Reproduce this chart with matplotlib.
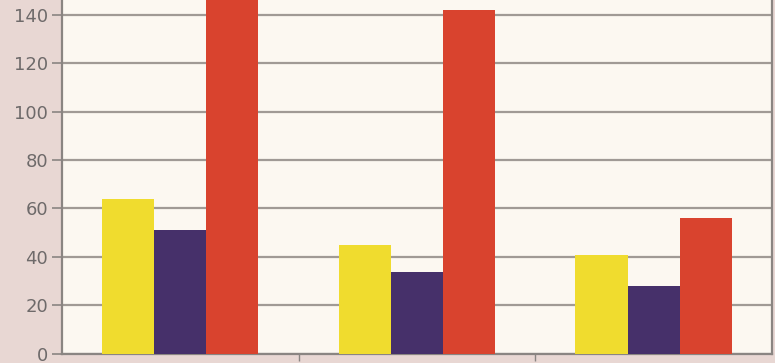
import numpy as np
import matplotlib.pyplot as plt

categories = ['A', 'B', 'C']
yellow_vals = [64, 45, 41]
purple_vals = [51, 34, 28]
red_vals = [150, 142, 56]

colors = ['#f0dc2e', '#46306a', '#d9432e']

fig = plt.figure(figsize=(7.75, 3.63), dpi=100, facecolor='#e8d7d3')
ax = fig.add_axes([0.08, 0.025, 0.916, 0.975])
ax.set_facecolor('#fcf8f1')

x = np.arange(len(categories))
w = 0.22
for off, vals, c in zip([-w, 0, w], [yellow_vals, purple_vals, red_vals], colors):
    ax.bar(x + off, vals, width=w, color=c, zorder=3)

ax.set_ylim(0, 146)
ax.set_xlim(-0.5, 2.5)
ax.set_yticks(range(0, 141, 20))
ax.yaxis.grid(True, color='#a09a95', lw=1.6, zorder=1)

ax.set_xticks([0.5, 1.5])
ax.set_xticklabels([])
ax.tick_params(axis='x', length=5, color='#8a8582', width=1)
ax.tick_params(axis='y', length=7, color='#8a8582', width=1.2,
               labelsize=13, labelcolor='#6e6a6a', pad=3)

for side in ['top']:
    ax.spines[side].set_visible(False)
for side in ['left', 'right', 'bottom']:
    ax.spines[side].set_color('#8a8582')
    ax.spines[side].set_linewidth(1.6)

plt.savefig('out.png', dpi=100, facecolor=fig.get_facecolor())
